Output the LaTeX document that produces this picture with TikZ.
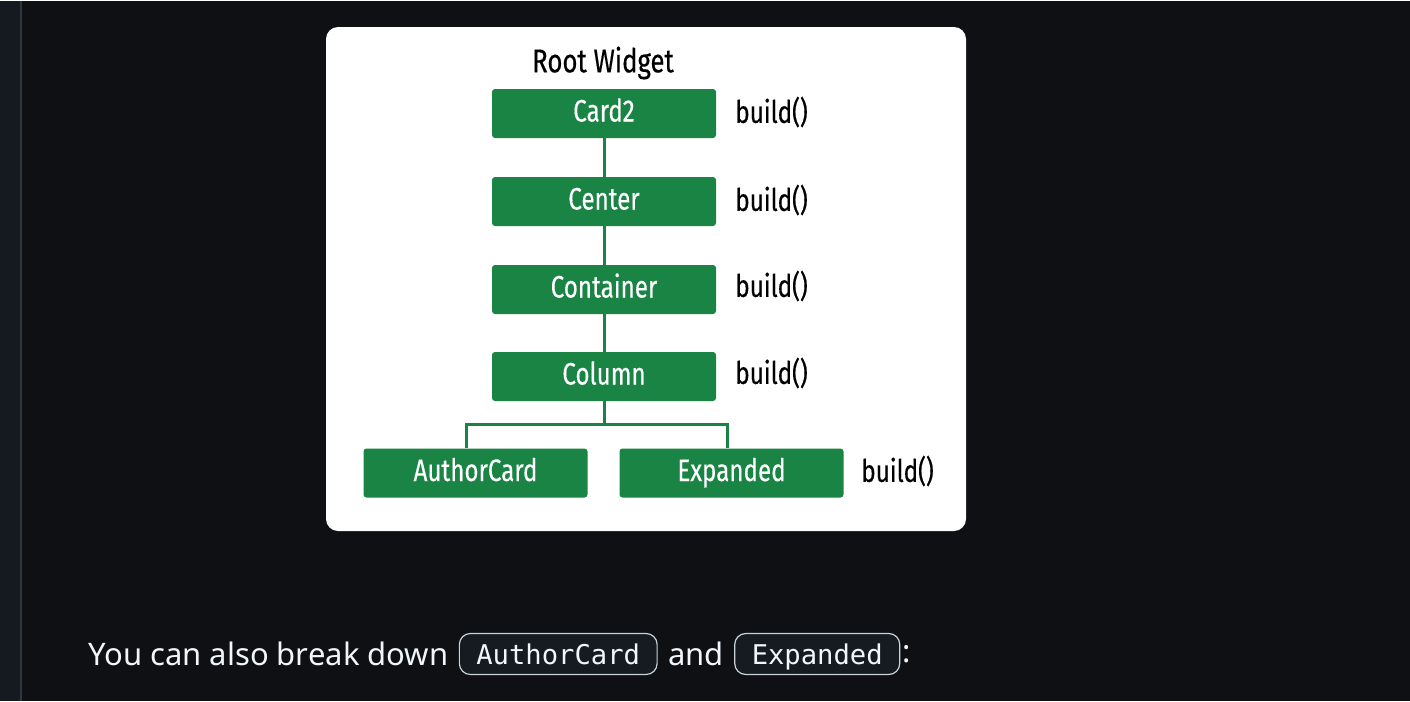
\documentclass[tikz,border=0pt]{standalone}
\usepackage{fontspec}
\usepackage{tikz}
\usetikzlibrary{calc,positioning}
\setmainfont{Noto Sans}
\setmonofont{DejaVu Sans Mono}
\newfontfamily\handfont[FakeStretch=0.78,FakeBold=0.35]{Fira Sans}
\definecolor{pagebg}{HTML}{0E1014}
\definecolor{sidebg}{HTML}{151A21}
\definecolor{sideline}{HTML}{30363D}
\definecolor{widgetgreen}{HTML}{1A8445}
\definecolor{codebg}{HTML}{161B22}
\definecolor{codeline}{HTML}{C9D1D9}
\definecolor{bodytext}{HTML}{F0F6FC}
\tikzset{
    widget/.style={fill=widgetgreen, rounded corners=1.5pt, minimum width=112pt,
        minimum height=24.5pt, inner sep=0pt, text=white, text height=11pt, text depth=3pt,
        font=\handfont\fontsize{15.5}{18}\selectfont},
    buildlabel/.style={anchor=west, inner sep=0pt, text=black,
        font=\handfont\fontsize{15.5}{18}\selectfont},
    treeline/.style={draw=widgetgreen, line width=1.5pt},
    codechip/.style={draw=codeline, fill=codebg, rounded corners=5.5pt, line width=0.6pt,
        minimum height=20.5pt, inner xsep=8.5pt, inner ysep=0pt, text=bodytext,
        text height=11pt, text depth=1pt,
        font=\ttfamily\fontsize{13.6}{16}\selectfont},
    bodyword/.style={inner xsep=0pt, text=bodytext, font=\fontsize{15.5}{18}\selectfont},
}
\begin{document}
\begin{tikzpicture}[x=0.5pt,y=-0.5pt]

            % page
            \fill[pagebg] (0,0) rectangle (1410,700);
            \fill[sidebg] (0,0) rectangle (20,700);
            \draw[sideline, line width=1pt] (20.5,0) -- (20.5,700);
            \fill[white, rounded corners=6pt] (326,26) rectangle (966,530);

            % widget tree
            \node[font=\handfont\fontsize{16.5}{18}\selectfont] (root) at (603,62) {Root Widget};
            \node[widget] (card2) at (604,112.5) {Card2};
            \node[widget] (center) at (604,200.5) {Center};
            \node[widget] (container) at (604,288.5) {Container};
            \node[widget] (column) at (604,375.5) {Column};
            \node[widget] (author) at (475.5,472) {AuthorCard};
            \node[widget] (expanded) at (731.5,472) {Expanded};

            \draw[treeline] (card2) -- (center);
            \draw[treeline] (center) -- (container);
            \draw[treeline] (container) -- (column);
            \draw[treeline] (column.south) -- ++(0,23) coordinate (fork) -| ([xshift=-4.5pt]author.north);
            \draw[treeline] (fork) -| ([xshift=-2.25pt]expanded.north);

            \node[buildlabel] (b1) at (735,111) {build()};
            \node[buildlabel] (b2) at (735,199) {build()};
            \node[buildlabel] (b3) at (735,285) {build()};
            \node[buildlabel] (b4) at (735,372) {build()};
            \node[buildlabel] (b5) at (861,470) {build()};

            % text below
            \node[bodyword, anchor=west] (say) at (88,653) {You can also break down};
            \node[codechip, right=5pt of say] (chip1) {AuthorCard};
            \node[bodyword, right=5pt of chip1] (and) {and};
            \node[codechip, right=5pt of and] (chip2) {Expanded};
            \node[bodyword, right=1pt of chip2] (colon) {:};
        \end{tikzpicture}
\end{document}
